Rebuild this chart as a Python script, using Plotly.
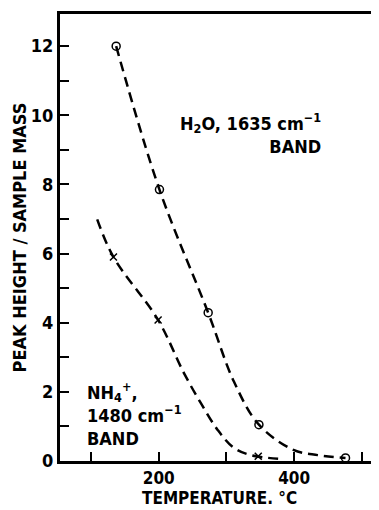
import plotly.graph_objects as go

# Data points
h2o_temp = [137, 201, 273, 348, 476]
h2o_val = [12.0, 7.85, 4.29, 1.05, 0.09]
nh4_temp = [133, 199, 347]
nh4_val = [5.90, 4.08, 0.14]

# Hand-drawn fitted curves
h2o_curve_t = [137, 201, 273, 311, 348, 399, 435, 476]
h2o_curve_v = [12.0, 7.85, 4.29, 2.30, 1.05, 0.32, 0.17, 0.09]
nh4_curve_t = [109, 133, 199, 237, 262, 287, 311, 336, 380]
nh4_curve_v = [6.99, 5.90, 4.08, 2.55, 1.68, 0.90, 0.38, 0.17, 0.06]

x_tickvals = [100, 200, 300, 400, 500]
x_ticktext = ["", "200", "", "400", ""]
y_tickvals = [0, 1, 2, 3, 4, 5, 6, 7, 8, 9, 10, 11, 12]
y_ticktext = ["0", "", "2", "", "4", "", "6", "", "8", "", "10", "", "12"]

x_title = "TEMPERATURE. °C"
y_title = "PEAK HEIGHT / SAMPLE MASS"

FONT = "DejaVu Sans Condensed, DejaVu Sans"

fig = go.Figure()
for ct, cv in [(h2o_curve_t, h2o_curve_v), (nh4_curve_t, nh4_curve_v)]:
    fig.add_trace(go.Scatter(x=ct, y=cv, mode="lines",
                             line=dict(color="black", width=2.5, dash="10px,6px", shape="spline", smoothing=1.0),
                             showlegend=False, hoverinfo="skip"))
fig.add_trace(go.Scatter(x=h2o_temp, y=h2o_val, mode="markers",
                         marker=dict(symbol="circle-open", size=8, color="black", line=dict(width=1.5)),
                         showlegend=False, cliponaxis=False))
fig.add_trace(go.Scatter(x=nh4_temp, y=nh4_val, mode="markers",
                         marker=dict(symbol="x-thin-open", size=7, color="black", line=dict(width=1.5)),
                         showlegend=False, cliponaxis=False))

fig.add_annotation(x=443, y=9.48, xref="x", yref="y", xanchor="right", yanchor="middle",
                   text="H<sub>2</sub>O, 1635 cm<sup>−1</sup><br>BAND", align="right", showarrow=False,
                   font=dict(family=FONT, size=18, color="black", weight="bold"))
fig.add_annotation(x=91, y=1.35, xref="x", yref="y", xanchor="left", yanchor="middle",
                   text="NH<sub>4</sub><sup>+</sup>,<br>1480 cm<sup>−1</sup><br>BAND", align="left", showarrow=False,
                   font=dict(family=FONT, size=18, color="black", weight="bold"))
fig.add_annotation(x=0.5, y=-0.1096, xref="paper", yref="paper", xanchor="center", yanchor="bottom",
                   text=x_title, showarrow=False,
                   font=dict(family=FONT, size=17, color="black", weight="bold"))
fig.add_annotation(x=-0.126, y=0.5, xref="paper", yref="paper", xanchor="center", yanchor="middle",
                   text=y_title, showarrow=False, textangle=-90,
                   font=dict(family=FONT, size=18, color="black", weight="bold"))

fig.update_layout(
    width=371, height=502,
    margin=dict(l=52, r=1, t=6, b=49, autoexpand=False),
    paper_bgcolor="white", plot_bgcolor="white",
    font=dict(family=FONT, color="black"),
    xaxis=dict(range=[54, 524], tickvals=x_tickvals, ticktext=x_ticktext,
               ticks="inside", ticklen=9, tickwidth=1.5, tickcolor="black",
               showline=True, linewidth=3, linecolor="black", mirror=True,
               showgrid=False, zeroline=False, automargin=False,
               tickfont=dict(family=FONT, size=17, color="black", weight="bold")),
    yaxis=dict(range=[0, 12.93], tickvals=y_tickvals, ticktext=y_ticktext,
               ticks="inside", ticklen=9, tickwidth=1.5, tickcolor="black",
               showline=True, linewidth=3, linecolor="black",
               showgrid=False, zeroline=False, automargin=False,
               tickfont=dict(family=FONT, size=18, color="black", weight="bold")),
)

fig.write_html("out.html")
